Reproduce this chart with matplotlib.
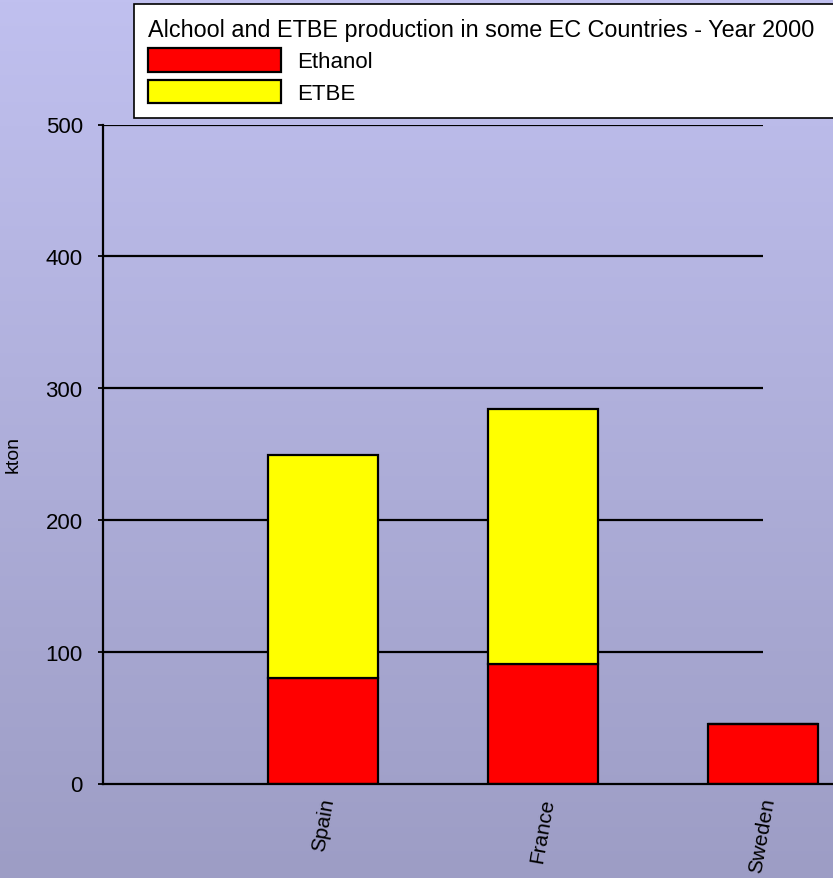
import numpy as np
import matplotlib
matplotlib.use("Agg")
import matplotlib.pyplot as plt
from matplotlib.colors import LinearSegmentedColormap

plt.rcParams['font.family'] = ['Liberation Sans', 'DejaVu Sans']

countries = ["Spain", "France", "Sweden"]
ethanol = [80, 91, 45]
etbe = [169, 193, 0]
yticks = [0, 100, 200, 300, 400, 500]
legend_title = "Alchool and ETBE production in some EC Countries - Year 2000"
series_names = ["Ethanol", "ETBE"]
ylabel = "kton"

fig = plt.figure(figsize=(8.33, 8.79), dpi=100)

# vertical lavender gradient behind everything
bg = fig.add_axes([0, 0, 1, 1], zorder=-10)
cmap = LinearSegmentedColormap.from_list("bg", ["#9d9dc5", "#c0c0ef"])
bg.imshow(np.linspace(0, 1, 256)[:, None], aspect="auto", cmap=cmap,
          origin="lower", extent=[0, 1, 0, 1])
bg.set_axis_off()

ax = fig.add_axes([103 / 833, 1 - 784.5 / 879, 1 - 103 / 833, (784.5 - 125.5) / 879])
ax.set_facecolor("none")

x = np.arange(1, len(countries) + 1)
width = 0.5
b1 = ax.bar(x, ethanol, width, color="#ff0000", edgecolor="black", linewidth=1.6, zorder=3)
b2 = ax.bar(x, etbe, width, bottom=ethanol, color="#ffff00", edgecolor="black",
            linewidth=1.6, zorder=3)

ax.set_xlim(0, 3.32)
ax.set_ylim(0, 500)
ax.hlines(yticks[1:], 0, len(countries), colors="black", linewidth=1.6, zorder=1)

for s in ["top", "right"]:
    ax.spines[s].set_visible(False)
for s in ["left", "bottom"]:
    ax.spines[s].set_linewidth(1.6)
    ax.spines[s].set_zorder(4)

ax.set_yticks(yticks)
ax.set_yticklabels([str(v) for v in yticks], fontsize=16)
ax.tick_params(axis="y", direction="out", length=3.6, width=1.3, pad=11)
ax.set_xticks(x)
ax.set_xticklabels(countries, rotation=80, fontsize=15, ha="center")
ax.tick_params(axis="x", length=0, pad=9)
ax.set_ylabel(ylabel, fontsize=14)
ax.yaxis.set_label_coords(-(103 - 22) / 730, 0.5)

leg = fig.legend([b1, b2], series_names, title=legend_title,
                 loc="upper left",
                 bbox_to_anchor=(134 / 833, 1 - 6 / 879, 0.9, 0.001),
                 mode="expand", alignment="left",
                 fontsize=16, title_fontsize=16.8,
                 handlelength=6.0, handleheight=1.25, handletextpad=0.7,
                 labelspacing=0.33, borderpad=0.62, borderaxespad=0,
                 fancybox=False, framealpha=1, edgecolor="black",
                 facecolor="white")
leg.get_frame().set_linewidth(1.2)

fig.savefig("out.png", dpi=100)
